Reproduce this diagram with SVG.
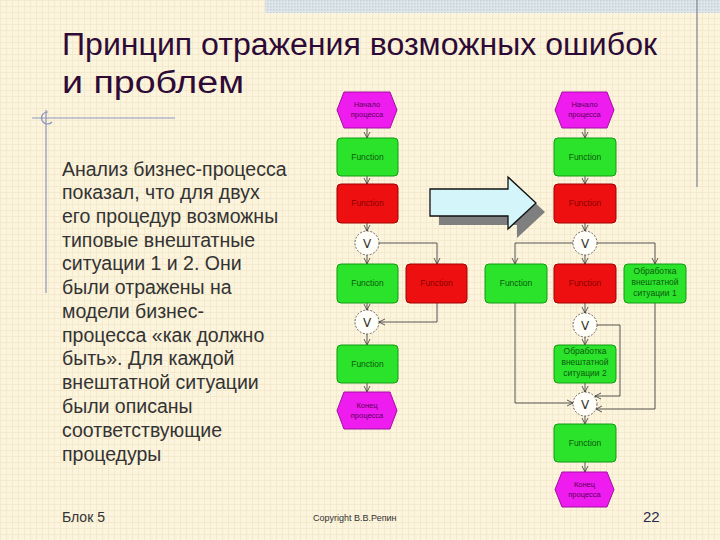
<svg xmlns="http://www.w3.org/2000/svg" width="720" height="540" viewBox="0 0 720 540">
<defs>
<pattern id="bg" width="6" height="6" patternUnits="userSpaceOnUse">
<rect width="6" height="6" fill="#fcf4dc"/>
<path d="M0 0.5H6M0.5 0V6" stroke="#f3e9cc" stroke-width="1"/>
</pattern>
<pattern id="band" width="3" height="3" patternUnits="userSpaceOnUse">
<rect width="3" height="3" fill="#dfe6ea"/>
<rect width="1.5" height="1.5" fill="#c4d0da"/>
</pattern>
<marker id="ar" markerWidth="8" markerHeight="8" refX="7" refY="4" orient="auto" markerUnits="userSpaceOnUse">
<path d="M1 1L7 4L1 7" fill="none" stroke="#333" stroke-width="0.8"/>
</marker>
</defs>
<style>
.fg{fill:#2be32b;stroke:#139a13;stroke-width:1}
.fr{fill:#ee1010;stroke:#a00000;stroke-width:1}
.hx{fill:#ee1cee;stroke:#a010a0;stroke-width:1}
.ci{fill:#fffef8;stroke:#444;stroke-width:0.8;stroke-dasharray:2 1.5}
.tg{font-family:"Liberation Sans",Arial,sans-serif;font-size:8.5px;fill:#0b5a0b;text-anchor:middle}
.tr{font-family:"Liberation Sans",Arial,sans-serif;font-size:8.5px;fill:#8a0000;text-anchor:middle}
.th{font-family:"Liberation Sans",Arial,sans-serif;font-size:7.5px;fill:#5a005a;text-anchor:middle}
.tv{font-family:"DejaVu Sans",sans-serif;font-size:12px;fill:#333;text-anchor:middle}
.cn{fill:none;stroke:#444;stroke-width:0.9}
.title{font-family:"Liberation Sans",Arial,sans-serif;font-size:31px;fill:#2e0a36}
.body{font-family:"Liberation Sans",Arial,sans-serif;font-size:19.5px;fill:#333333}
.deco{stroke:#8c95bd;stroke-width:1.2;fill:none}
</style>
<rect width="720" height="540" fill="url(#bg)"/>
<rect x="265" y="0" width="455" height="13" fill="url(#band)"/>
<line x1="697" y1="0" x2="697" y2="187" stroke="#7d8595" stroke-width="1.2"/>
<g id="deco">
<line class="deco" x1="32" y1="118" x2="175" y2="118"/>
<line class="deco" x1="46" y1="110" x2="46" y2="293"/>
<path class="deco" d="M48 112 A6 6 0 1 0 52 122" stroke-width="0.8"/>
</g>
<g id="title">
<text class="title" x="62" y="55" textLength="595" lengthAdjust="spacingAndGlyphs">Принцип отражения возможных ошибок</text>
<text class="title" x="62" y="93" textLength="182" lengthAdjust="spacingAndGlyphs">и проблем</text>
</g>
<g id="body-text" class="body">
<text x="62" y="176">Анализ бизнес-процесса</text>
<text x="62" y="199">показал, что для двух</text>
<text x="62" y="223">его процедур возможны</text>
<text x="62" y="247">типовые внештатные</text>
<text x="62" y="270">ситуации 1 и 2. Они</text>
<text x="62" y="294">были отражены на</text>
<text x="62" y="318">модели бизнес-</text>
<text x="62" y="342">процесса «как должно</text>
<text x="62" y="365">быть». Для каждой</text>
<text x="62" y="389">внештатной ситуации</text>
<text x="62" y="413">были описаны</text>
<text x="62" y="437">соответствующие</text>
<text x="62" y="461">процедуры</text>
</g>
<g id="footer">
<text x="62" y="522" font-family="Liberation Sans, Arial, sans-serif" font-size="14" fill="#333">Блок 5</text>
<text x="313" y="521" font-family="Liberation Sans, Arial, sans-serif" font-size="9" fill="#333">Copyright В.В.Репин</text>
<text x="643" y="522" font-family="Liberation Sans, Arial, sans-serif" font-size="15" fill="#2a2a50">22</text>
</g>
<g id="big-arrow">
<path d="M439 198H517V186L545 212L517 238V225H439Z" fill="#7f7f7f"/>
<path d="M430 189H508V177L536 203L508 229V216H430Z" fill="#d4f6fb" stroke="#111" stroke-width="1.3"/>
</g>
<g id="connectors">
<path class="cn" d="M367 128V138" marker-end="url(#ar)"/>
<path class="cn" d="M367 176V184" marker-end="url(#ar)"/>
<path class="cn" d="M367 223V231" marker-end="url(#ar)"/>
<path class="cn" d="M367 255V264" marker-end="url(#ar)"/>
<path class="cn" d="M379 243H437V264" marker-end="url(#ar)"/>
<path class="cn" d="M367 303V310" marker-end="url(#ar)"/>
<path class="cn" d="M437 303V322H379" marker-end="url(#ar)"/>
<path class="cn" d="M367 334V345" marker-end="url(#ar)"/>
<path class="cn" d="M367 383V392" marker-end="url(#ar)"/>
<path class="cn" d="M585 128V138" marker-end="url(#ar)"/>
<path class="cn" d="M585 176V184" marker-end="url(#ar)"/>
<path class="cn" d="M585 223V231" marker-end="url(#ar)"/>
<path class="cn" d="M585 255V264" marker-end="url(#ar)"/>
<path class="cn" d="M573 243H515V264" marker-end="url(#ar)"/>
<path class="cn" d="M597 243H655V264" marker-end="url(#ar)"/>
<path class="cn" d="M585 303V313" marker-end="url(#ar)"/>
<path class="cn" d="M585 337V345" marker-end="url(#ar)"/>
<path class="cn" d="M597 325H620V396H595" marker-end="url(#ar)"/>
<path class="cn" d="M585 383V392" marker-end="url(#ar)"/>
<path class="cn" d="M515 303V403H573" marker-end="url(#ar)"/>
<path class="cn" d="M655 303V409H596" marker-end="url(#ar)"/>
<path class="cn" d="M585 416V424" marker-end="url(#ar)"/>
<path class="cn" d="M585 462V472" marker-end="url(#ar)"/>
</g>
<g id="L-start"><path class="hx" d="M344 92H390L397 110L390 128H344L337 110Z"/><text class="th" x="367" y="107">Начало</text><text class="th" x="367" y="117">процесса</text></g>
<g id="L-f1"><rect class="fg" x="337" y="138" width="61" height="38" rx="4"/><text class="tg" x="367.5" y="160">Function</text></g>
<g id="L-f2"><rect class="fr" x="337" y="184" width="61" height="39" rx="4"/><text class="tr" x="367.5" y="206">Function</text></g>
<g id="L-c1"><circle class="ci" cx="367" cy="243" r="12"/><text class="tv" x="367" y="248">V</text></g>
<g id="L-f3"><rect class="fg" x="337" y="264" width="61" height="39" rx="4"/><text class="tg" x="367.5" y="286">Function</text></g>
<g id="L-f4"><rect class="fr" x="406" y="264" width="61" height="39" rx="4"/><text class="tr" x="436.5" y="286">Function</text></g>
<g id="L-c2"><circle class="ci" cx="367" cy="322" r="12"/><text class="tv" x="367" y="327">V</text></g>
<g id="L-f5"><rect class="fg" x="337" y="345" width="61" height="38" rx="4"/><text class="tg" x="367.5" y="367">Function</text></g>
<g id="L-end"><path class="hx" d="M344 392H390L397 410.5L390 429H344L337 410.5Z"/><text class="th" x="367" y="408">Конец</text><text class="th" x="367" y="418">процесса</text></g>
<g id="R-start"><path class="hx" d="M562 92H607L614 110L607 128H562L555 110Z"/><text class="th" x="584.5" y="107">Начало</text><text class="th" x="584.5" y="117">процесса</text></g>
<g id="R-f1"><rect class="fg" x="554" y="138" width="62" height="38" rx="4"/><text class="tg" x="585" y="160">Function</text></g>
<g id="R-f2"><rect class="fr" x="554" y="184" width="62" height="39" rx="4"/><text class="tr" x="585" y="206">Function</text></g>
<g id="R-c1"><circle class="ci" cx="585" cy="243" r="12"/><text class="tv" x="585" y="248">V</text></g>
<g id="R-f3"><rect class="fg" x="485" y="264" width="62" height="39" rx="4"/><text class="tg" x="516" y="286">Function</text></g>
<g id="R-f4"><rect class="fr" x="554" y="264" width="62" height="39" rx="4"/><text class="tr" x="585" y="286">Function</text></g>
<g id="R-s1"><rect class="fg" x="624" y="264" width="62" height="39" rx="4"/><text class="tg" x="655" y="274">Обработка</text><text class="tg" x="655" y="285">внештатной</text><text class="tg" x="655" y="296">ситуации 1</text></g>
<g id="R-c2"><circle class="ci" cx="585" cy="325" r="12"/><text class="tv" x="585" y="330">V</text></g>
<g id="R-s2"><rect class="fg" x="554" y="345" width="62" height="38" rx="4"/><text class="tg" x="585" y="354">Обработка</text><text class="tg" x="585" y="365">внештатной</text><text class="tg" x="585" y="376">ситуации 2</text></g>
<g id="R-c3"><circle class="ci" cx="585" cy="404" r="12"/><text class="tv" x="585" y="409">V</text></g>
<g id="R-f5"><rect class="fg" x="554" y="424" width="62" height="38" rx="4"/><text class="tg" x="585" y="446">Function</text></g>
<g id="R-end"><path class="hx" d="M562 472H607L614 489.5L607 507H562L555 489.5Z"/><text class="th" x="584.5" y="487">Конец</text><text class="th" x="584.5" y="497">процесса</text></g>
</svg>
